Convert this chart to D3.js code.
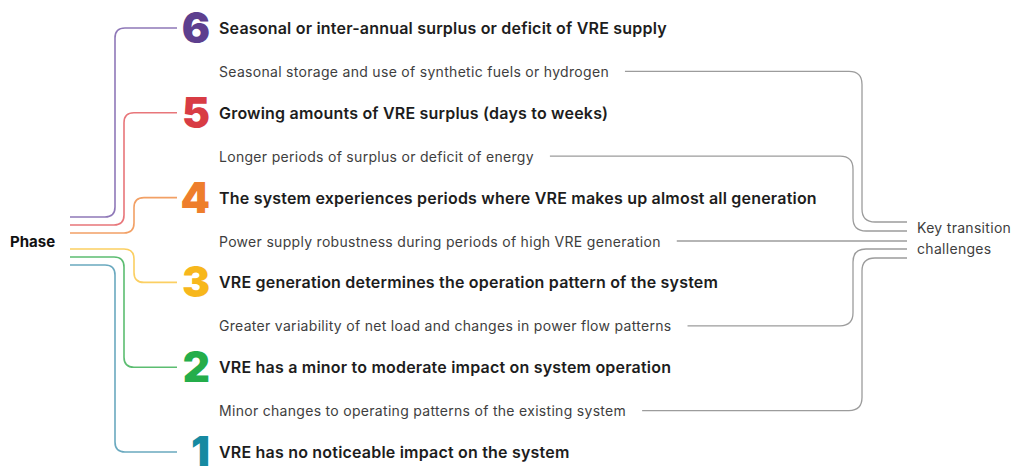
<!DOCTYPE html>
<html>
<head>
<meta charset="utf-8">
<script src="https://cdn.jsdelivr.net/npm/d3@7"></script>
<style>
  html, body { margin: 0; padding: 0; background: #fff; }
  svg { display: block; }
</style>
</head>
<body>
<svg id="chart" width="1012" height="466"></svg>
<script>
// ---- data ----
const phases = [6, 5, 4, 3, 2, 1];
const phaseTitles = [
  "Seasonal or inter-annual surplus or deficit of VRE supply",
  "Growing amounts of VRE surplus (days to weeks)",
  "The system experiences periods where VRE makes up almost all generation",
  "VRE generation determines the operation pattern of the system",
  "VRE has a minor to moderate impact on system operation",
  "VRE has no noticeable impact on the system"
];
const phaseColors = ["#5d3f8e", "#d83c44", "#ee7e2c", "#f7b71c", "#24ad4a", "#168aa1"];
const lineColors  = ["#8f78b8", "#e8767a", "#f2a065", "#fbcf62", "#5cbd71", "#6aa9bf"];
const challenges = [
  "Seasonal storage and use of synthetic fuels or hydrogen",
  "Longer periods of surplus or deficit of energy",
  "Power supply robustness during periods of high VRE generation",
  "Greater variability of net load and changes in power flow patterns",
  "Minor changes to operating patterns of the existing system"
];
const leftLabel = "Phase";
const rightLabel = ["Key transition", "challenges"];

// ---- layout ----
const svg = d3.select("#chart");
const font = "Inter, 'Noto Sans', sans-serif";

const y = d3.scalePoint().domain(phases).range([28, 452]);
const challengeY = challenges.map((c, i) => (y(phases[i]) + y(phases[i + 1])) / 2 + 1);

// left bundle
const leftStubY = phases.map((p, i) => i < 3 ? 217 + i * 8 : 249 + (i - 3) * 8);
const leftVx = [115, 124, 134, 134, 124, 115];
const x0 = 70, x1 = 177, r = 10;

function elbow(xa, ya, xv, yb, xb, rad) {
  const s = yb < ya ? -1 : 1;
  const dirIn = xv > xa ? 1 : -1;
  const dirOut = xb > xv ? 1 : -1;
  return `M${xa},${ya} H${xv - dirIn * rad} Q${xv},${ya} ${xv},${ya + s * rad} V${yb - s * rad} Q${xv},${yb} ${xv + dirOut * rad},${yb} H${xb}`;
}

svg.append("g").selectAll("path").data(phases).join("path")
  .attr("d", (p, i) => elbow(x0, leftStubY[i], leftVx[i], y(p), x1, r))
  .attr("fill", "none")
  .attr("stroke", (p, i) => lineColors[i])
  .attr("stroke-width", 1.6);

svg.append("text")
  .attr("x", 10).attr("y", 241)
  .attr("dominant-baseline", "central")
  .attr("font-family", font).attr("font-weight", 700).attr("font-size", 15)
  .attr("fill", "#111").text(leftLabel);

// phase numbers
svg.append("g").selectAll("text").data(phases).join("text")
  .attr("x", 210).attr("y", p => y(p) + 15)
  .attr("text-anchor", "end")
  .attr("font-family", font).attr("font-weight", 900).attr("font-size", 42)
  .attr("fill", (p, i) => phaseColors[i])
  .text(p => p);

// phase titles
svg.append("g").selectAll("text").data(phaseTitles).join("text")
  .attr("x", 219).attr("y", (t, i) => y(phases[i]))
  .attr("dominant-baseline", "central")
  .attr("font-family", font).attr("font-weight", 600).attr("font-size", 16)
  .attr("letter-spacing", 0.2)
  .attr("fill", "#1d1d1d")
  .text(t => t);

// challenges
const chText = svg.append("g").selectAll("text").data(challenges).join("text")
  .attr("x", 219).attr("y", (c, i) => challengeY[i])
  .attr("dominant-baseline", "central")
  .attr("font-family", font).attr("font-weight", 400).attr("font-size", 14)
  .attr("letter-spacing", 0.3)
  .attr("fill", "#3e3e3e")
  .text(c => c);

// right connectors
const rightEndY = [222, 231, 240, 249, 258];
const rightVx = [862, 853, null, 853, 862];
const xr = 907, rr = 13;
chText.each(function (c, i) {
  const start = 219 + this.getComputedTextLength() + 16;
  const ya = challengeY[i];
  const d = rightVx[i] == null
    ? `M${start},${ya} H${xr}`
    : elbow(start, ya, rightVx[i], rightEndY[i], xr, rr);
  svg.append("path").attr("d", d)
    .attr("fill", "none").attr("stroke", "#9c9c9c").attr("stroke-width", 1.3);
});

svg.append("g").selectAll("text").data(rightLabel).join("text")
  .attr("x", 917).attr("y", (t, i) => 227 + i * 21)
  .attr("dominant-baseline", "central")
  .attr("font-family", font).attr("font-weight", 400).attr("font-size", 14)
  .attr("letter-spacing", 0.3)
  .attr("fill", "#3e3e3e")
  .text(t => t);
</script>
</body>
</html>
